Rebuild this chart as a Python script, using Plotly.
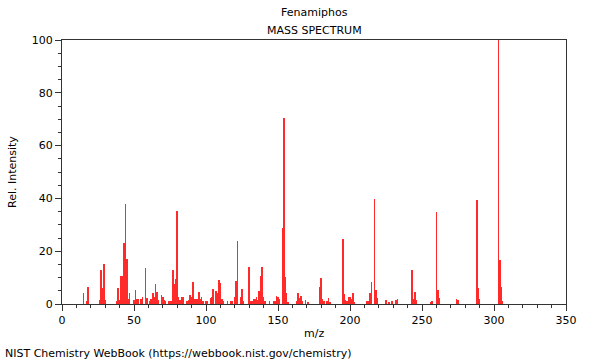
import plotly.graph_objects as go

mz = [15, 17, 18, 26, 27, 28, 29, 30, 38, 39, 40, 41, 42, 43, 44, 45, 46, 47,
      50, 51, 52, 53, 55, 56, 58, 59, 61, 62, 63, 64, 65, 66, 67, 69, 70, 71,
      72, 74, 75, 76, 77, 78, 79, 80, 81, 82, 83, 84, 87, 88, 89, 90, 91, 92,
      93, 94, 95, 96, 97, 98, 100, 101, 103, 104, 105, 107, 108, 109, 110, 111,
      112, 115, 117, 118, 120, 121, 122, 124, 125, 126, 130, 131, 132, 133, 134,
      135, 136, 137, 138, 139, 140, 141, 144, 147, 148, 149, 150, 151, 153, 154,
      155, 156, 157, 163, 164, 165, 166, 167, 169, 171, 179, 180, 181, 182, 184,
      185, 186, 195, 196, 197, 198, 199, 200, 201, 202, 203, 212, 213, 214, 215,
      217, 218, 219, 225, 227, 229, 232, 233, 243, 244, 245, 246, 256, 257, 260,
      261, 262, 274, 275, 288, 289, 290, 303, 304, 305, 306]
intensity = [4.3, 1, 6.3, 1.5, 12.9, 6.2, 15.2, 1.5, 1, 6, 1.5, 10.6, 10.6, 23, 37.9, 17, 2, 4,
             1.5, 5.3, 2, 2, 2, 2.5, 13.6, 2.4, 1, 2, 4.3, 2.8, 7.6, 4.5, 1.5, 3.4, 2.5, 1.7,
             1, 1, 1, 1, 12.9, 7.6, 9.3, 35.2, 2.5, 1.5, 2.5, 2.5, 1, 1.5, 3.3, 2.5, 8.3, 2,
             2, 2, 4.7, 2, 2.6, 1.3, 1, 1, 2.4, 2.8, 5.6, 5, 4, 9, 8, 2,
             1.2, 1, 1, 1, 2.5, 8.7, 23.9, 2.8, 5.6, 1, 14, 1, 1.2, 2, 2,
             2.5, 1.7, 5, 10.5, 14, 2.5, 1, 1, 1, 1, 3, 2.8, 2, 28.7, 70.5,
             10.4, 4.3, 0.5, 1, 4, 2.3, 3.2, 1, 1.5, 0.6, 6.6, 10, 2, 1, 1,
             2.4, 0.6, 24.5, 3.8, 1.5, 1, 2.5, 2.8, 2, 4.3, 0.8, 1, 1, 4.3, 8.3,
             39.7, 5.3, 2.4, 1.4, 0.8, 1, 1.4, 2, 12.9, 2, 4.5, 1.4, 0.8, 1, 34.7,
             5.2, 2.4, 2, 1.5, 39.4, 6.2, 2, 100, 16.7, 6.3, 1]

x_ticks = [0, 50, 100, 150, 200, 250, 300, 350]
y_ticks = [0, 20, 40, 60, 80, 100]

FONT = "DejaVu Sans"
AX = "#333333"

fig = go.Figure()
fig.add_trace(go.Bar(x=mz, y=intensity, width=0.45,
                     marker=dict(color="#ff2a2a", line=dict(width=0)),
                     hoverinfo="x+y"))

axis_common = dict(showgrid=False, zeroline=False, showline=True, linecolor=AX,
                   linewidth=1, mirror=True, ticks="outside", ticklen=6,
                   tickcolor=AX, tickfont=dict(family=FONT, size=11, color="#000"))

fig.update_xaxes(range=[0, 350], tickvals=x_ticks,
                 minor=dict(dtick=10, tick0=0, ticks="outside", ticklen=3, tickcolor=AX),
                 **axis_common)
fig.update_yaxes(range=[0, 100], tickvals=y_ticks,
                 minor=dict(dtick=5, tick0=0, ticks="outside", ticklen=3, tickcolor=AX),
                 **axis_common)

ann_font = dict(family=FONT, size=11, color="#000")
fig.update_layout(
    width=600, height=360,
    margin=dict(l=62, r=34, t=40, b=56),
    paper_bgcolor="white", plot_bgcolor="white",
    showlegend=False, bargap=0,
    annotations=[
        dict(text="Fenamiphos", x=0.5, y=(304 - 13) / 264, xref="paper", yref="paper",
             showarrow=False, xanchor="center", yanchor="middle", font=ann_font),
        dict(text="MASS SPECTRUM", x=0.5, y=(304 - 30) / 264, xref="paper", yref="paper",
             showarrow=False, xanchor="center", yanchor="middle", font=ann_font),
        dict(text="m/z", x=0.5, y=(304 - 333) / 264, xref="paper", yref="paper",
             showarrow=False, xanchor="center", yanchor="middle", font=ann_font),
        dict(text="Rel. Intensity", x=(12 - 62) / 504, y=0.5, xref="paper", yref="paper",
             showarrow=False, xanchor="center", yanchor="middle", textangle=-90, font=ann_font),
        dict(text="NIST Chemistry WebBook (https://webbook.nist.gov/chemistry)",
             x=(3 - 62) / 504, y=(304 - 353) / 264, xref="paper", yref="paper",
             showarrow=False, xanchor="left", yanchor="middle", font=ann_font),
    ],
)

fig.write_html("out.html",
               config={"displayModeBar": False},
               post_script="document.body.style.margin='0px';document.body.style.overflow='hidden';")
